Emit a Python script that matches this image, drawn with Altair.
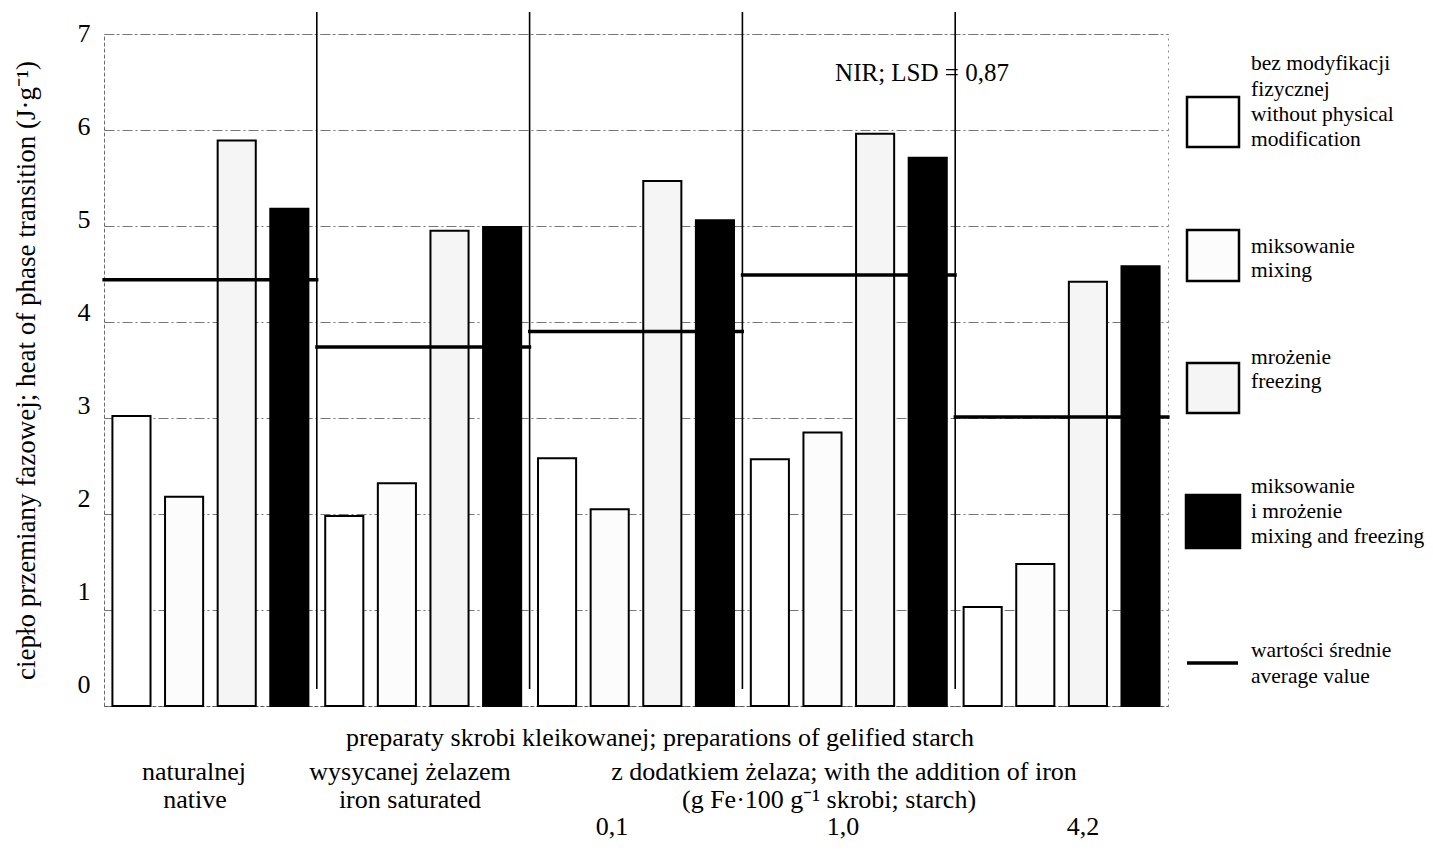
import altair as alt
import pandas as pd

# ---------------- data ----------------
groups = ["naturalnej", "wysycanej żelazem", "0,1", "1,0", "4,2"]
treatments = ["bez modyfikacji fizycznej", "miksowanie", "mrożenie", "miksowanie i mrożenie"]
v_without = [3.02, 1.98, 2.58, 2.57, 1.03]
v_mixing = [2.18, 2.32, 2.05, 2.85, 1.48]
v_freezing = [5.89, 4.95, 5.47, 5.96, 4.42]
v_mixfreeze = [5.18, 4.99, 5.06, 5.71, 4.58]
mean_values = [4.44, 3.74, 3.90, 4.49, 3.01]
y_ticks = [0, 1, 2, 3, 4, 5, 6, 7]
fills = ["#ffffff", "#fcfcfc", "#f5f5f5", "#000000"]

series = [v_without, v_mixing, v_freezing, v_mixfreeze]
rows = []
for t, vals in zip(treatments, series):
    for g, v in zip(groups, vals):
        rows.append({"group": g, "treatment": t, "value": v})
bars_df = pd.DataFrame(rows)
means_df = pd.DataFrame({"group": groups, "value": mean_values})
sep_df = pd.DataFrame({"group": groups[1:]})

FONT = "Liberation Serif"
W, H = 1064, 672

x_scale = alt.Scale(domain=groups, paddingInner=0, paddingOuter=0)
y_enc = alt.Y(
    "value:Q",
    scale=alt.Scale(domain=[0, 7], nice=False),
    axis=alt.Axis(
        values=y_ticks,
        title="ciepło przemiany fazowej; heat of phase transition (J·g⁻¹)",
        grid=True, gridDash=[10, 3, 2, 3], gridColor="#777", gridWidth=1,
        ticks=False, labelPadding=14,
        labelOffset={"expr": "-1 - 2.9 * (7 - datum.value)"},
        labelFont=FONT, labelFontSize=26, labelColor="black",
        domain=True, domainDash=[3, 3], domainColor="#666",
        titleFont=FONT, titleFontSize=27, titleFontWeight="normal",
        titleColor="black", titlePadding=37,
    ),
)
x_axis = alt.Axis(title=None, labels=False, ticks=False, grid=False,
                  domain=True, domainDash=[3, 3], domainColor="#555")

bars = alt.Chart(bars_df).mark_bar(stroke="black", strokeWidth=2).encode(
    x=alt.X("group:N", sort=groups, scale=x_scale, axis=x_axis),
    xOffset=alt.XOffset("treatment:N", sort=treatments,
                        scale=alt.Scale(domain=treatments, paddingInner=0.276, paddingOuter=0.16)),
    y=y_enc,
    fill=alt.Fill("treatment:N", scale=alt.Scale(domain=treatments, range=fills), legend=None),
)

means = alt.Chart(means_df).mark_tick(color="black", thickness=3.5, size=216, opacity=1).encode(
    x=alt.X("group:N", sort=groups, scale=x_scale, axis=x_axis),
    y=y_enc,
)

seps = alt.Chart(sep_df).mark_rule(color="black", strokeWidth=1.6).encode(
    x=alt.X("group:N", sort=groups, scale=x_scale, axis=x_axis, bandPosition=0),
    y=alt.value(-22),
    y2=alt.value(655),
)


def label(txt, x, y, size=26, align="center"):
    return alt.Chart(pd.DataFrame({"k": [0]})).mark_text(
        text=txt, align=align, baseline="middle", font=FONT, fontSize=size, color="black"
    ).encode(x=alt.value(x), y=alt.value(y))


def box(x1, x2, y1, y2, fill):
    return alt.Chart(pd.DataFrame({"k": [0]})).mark_rect(
        fill=fill, stroke="black", strokeWidth=2.5
    ).encode(x=alt.value(x1), x2=alt.value(x2), y=alt.value(y1), y2=alt.value(y2))


texts = [
    label("NIR; LSD = 0,87", 818, 39, size=25),
    label("preparaty skrobi kleikowanej; preparations of gelified starch", 556, 704),
    label("naturalnej", 90, 738),
    label("native", 91, 766),
    label("wysycanej żelazem", 306, 738),
    label("iron saturated", 306, 766),
    label("z dodatkiem żelaza; with the addition of iron", 740, 738),
    label("(g Fe·100 g⁻¹ skrobi; starch)", 725, 766),
    label("0,1", 508, 793),
    label("1,0", 739, 793),
    label("4,2", 979, 793),
]

LX = 1147
LS = 21.5
legend_parts = [
    box(1083, 1135, 63, 113, fills[0]),
    box(1083, 1135, 196, 247, fills[1]),
    box(1083, 1135, 329, 379, fills[2]),
    box(1082, 1136, 461, 514, fills[3]),
    alt.Chart(pd.DataFrame({"k": [0]})).mark_rule(color="black", strokeWidth=3.5).encode(
        x=alt.value(1083), x2=alt.value(1134), y=alt.value(629)),
    label("bez modyfikacji", LX, 30, LS, "left"),
    label("fizycznej", LX, 56, LS, "left"),
    label("without physical", LX, 81, LS, "left"),
    label("modification", LX, 106, LS, "left"),
    label("miksowanie", LX, 213, LS, "left"),
    label("mixing", LX, 237, LS, "left"),
    label("mrożenie", LX, 324, LS, "left"),
    label("freezing", LX, 348, LS, "left"),
    label("miksowanie", LX, 453, LS, "left"),
    label("i mrożenie", LX, 478, LS, "left"),
    label("mixing and freezing", LX, 503, LS, "left"),
    label("wartości średnie", LX, 617, LS, "left"),
    label("average value", LX, 643, LS, "left"),
]

chart = alt.layer(bars, means, seps, *texts, *legend_parts).properties(
    width=W, height=H,
    autosize=alt.AutoSizeParams(type="none"),
    padding={"left": 96, "top": 26, "right": 257, "bottom": 136},
    background="white",
).configure_view(stroke="#888", strokeDash=[2, 4])

chart.save("out.html", embed_options={"renderer": "svg", "actions": False})
